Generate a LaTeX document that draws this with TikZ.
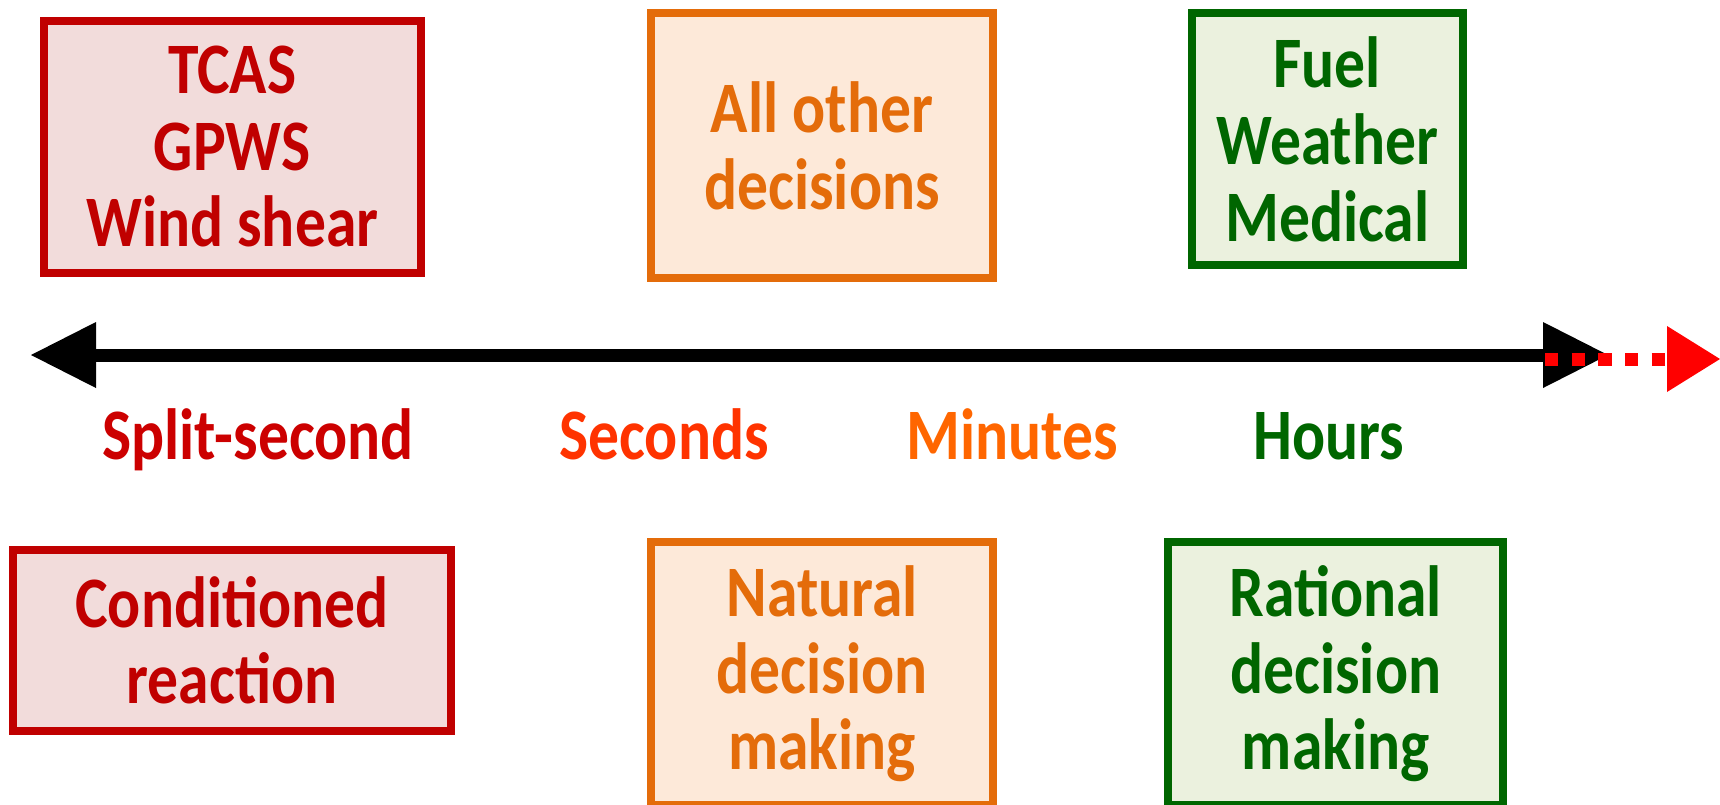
\documentclass[tikz,border=0pt]{standalone}
\usepackage{fontspec}
\setmainfont{Carlito}[FakeStretch=0.85]
\usetikzlibrary{arrows.meta}
\definecolor{cred}{HTML}{C00000}
\definecolor{credfill}{HTML}{F2DCDB}
\definecolor{corange}{HTML}{E46C0A}
\definecolor{corangefill}{HTML}{FDE9D9}
\definecolor{cgreen}{HTML}{006600}
\definecolor{cgreenfill}{HTML}{EBF1DE}
\definecolor{lsplit}{HTML}{CC0000}
\definecolor{lsec}{HTML}{FF3300}
\definecolor{lmin}{HTML}{FF6600}
\definecolor{lhour}{HTML}{006600}
\tikzset{
  txt/.style={font=\fontsize{36.25}{38.35}\selectfont\bfseries, align=center},
  redbox/.style={txt, draw=cred, fill=credfill, text=cred, line width=4pt, inner sep=0pt},
  orangebox/.style={txt, draw=corange, fill=corangefill, text=corange, line width=4pt, inner sep=0pt},
  greenbox/.style={txt, draw=cgreen, fill=cgreenfill, text=cgreen, line width=4pt, inner sep=0pt},
  scalelabel/.style={txt, anchor=base, inner sep=0pt},
  bigtip/.tip={Triangle[length=32.5pt,width=33pt,line width=0pt]},
  redtip/.tip={Triangle[length=26.5pt,width=33pt,line width=0pt]}
}
\begin{document}
\begin{tikzpicture}[x=0.5pt,y=-0.5pt]
\useasboundingbox (0,0) rectangle (1720,804);
% top boxes
\node[redbox, minimum width=377.5*0.5pt, minimum height=252*0.5pt] (tcas) at (232.3,146.7) {TCAS\\GPWS\\Wind shear};
\node[orangebox, minimum width=342*0.5pt, minimum height=264.4*0.5pt] (other) at (822,145.5) {All other\\decisions};
\node[greenbox, minimum width=271.5*0.5pt, minimum height=252*0.5pt] (fuel) at (1327.3,139.3) {Fuel\\Weather\\Medical};
% bottom boxes
\node[redbox, minimum width=438*0.5pt, minimum height=180.7*0.5pt] (cond) at (232,640.3) {Conditioned\\reaction};
\node[orangebox, minimum width=342*0.5pt, minimum height=262.7*0.5pt] (natural) at (822,673.7) {Natural\\decision\\making};
\node[greenbox, minimum width=334.6*0.5pt, minimum height=262.7*0.5pt] (rational) at (1335.7,673.7) {Rational\\decision\\making};
% time axis
\coordinate (L) at (31,355);
\coordinate (R) at (1608,355);
\draw[line width=6.5pt, bigtip-bigtip] (L) -- (R);
\coordinate (D1) at (1545,359);
\coordinate (D2) at (1720,359);
\draw[red, line width=6.5pt, dash pattern=on 6.67pt off 6.67pt, -redtip] (D1) -- (D2);
% scale labels
\node[scalelabel, text=lsplit] (split) at (258,459) {Split-second};
\node[scalelabel, text=lsec] (sec) at (664,459) {Seconds};
\node[scalelabel, text=lmin] (min) at (1012,459) {Minutes};
\node[scalelabel, text=lhour] (hour) at (1329,459) {Hours};
\end{tikzpicture}
\end{document}
